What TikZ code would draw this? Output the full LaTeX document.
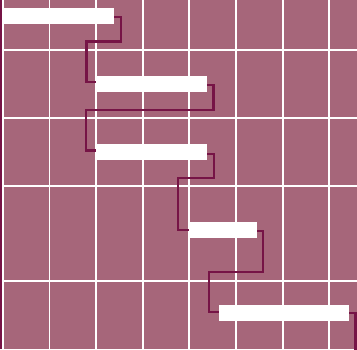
\documentclass[tikz,border=0pt]{standalone}
\definecolor{bgmauve}{RGB}{166,102,122}
\definecolor{darkplum}{RGB}{118,20,70}
\tikzset{
  grid line/.style={draw=white, line width=1.8pt},
  bar/.style={fill=white, draw=none, inner sep=0pt, minimum height=16pt},
  conn/.style={draw=darkplum, line width=2.3pt, line cap=butt, line join=miter},
}
\begin{document}
\begin{tikzpicture}[x=1pt,y=-1pt]
\fill[bgmauve] (0,0) rectangle (357,349);
\useasboundingbox (0,0) rectangle (357,349);
% grid
\foreach \k in {0,...,7} {
  \draw[grid line] ({2.8+46.64*\k},0) -- ({2.8+46.64*\k},349);
}
\foreach \y in {50,118.3,186.3,280.7} {
  \draw[grid line] (0,\y) -- (357,\y);
}
% left edge line
\coordinate (lt) at (1,0);
\coordinate (lb) at (1,349);
\draw[conn] (lt) -- (lb);
% bars
\node[bar, minimum width=111pt] (b1) at (58.5,16) {};
\node[bar, minimum width=111pt] (b2) at (151.5,84) {};
\node[bar, minimum width=111pt] (b3) at (151.5,152) {};
\node[bar, minimum width=68pt] (b4) at (223,230) {};
\node[bar, minimum width=130pt] (b5) at (284,313) {};
\coordinate (end5) at (355.5,352);
% connectors
\draw[conn] ([yshift=-1pt]b1.east) -- ++(6.5,0) |- (86.5,41.5) |- ([yshift=2pt]b2.west);
\draw[conn] ([yshift=-1pt]b2.east) -- ++(6.3,0) |- (86,110) |- ([yshift=1.5pt]b3.west);
\draw[conn] ([yshift=-2pt]b3.east) -- ++(7,0) |- (178,178.3) |- (b4.west);
\draw[conn] ([yshift=-1pt]b4.east) -- ++(6,0) |- (209,271.7) |- ([yshift=1pt]b5.west);
\draw[conn] (b5.east) -| (end5);
\end{tikzpicture}
\end{document}
